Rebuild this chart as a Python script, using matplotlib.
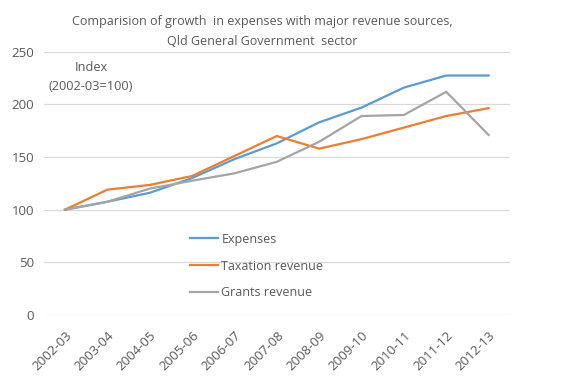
import matplotlib
matplotlib.use("Agg")
import matplotlib.pyplot as plt

years = ["2002-03", "2003-04", "2004-05", "2005-06", "2006-07", "2007-08",
         "2008-09", "2009-10", "2010-11", "2011-12", "2012-13"]
expenses = [100, 107.5, 116, 130, 148, 163, 183, 197, 216, 227.5, 227.5]
taxation = [100, 119, 123.5, 132, 151, 170, 158, 167, 178, 189, 196.5]
grants = [100, 107.5, 120, 127.5, 134.5, 145.5, 164.5, 189, 190, 212, 171]

txt = "#595959"
plt.rcParams['font.family'] = ['Open Sans', 'DejaVu Sans']

fig = plt.figure(figsize=(5.76, 3.84), dpi=100)
ax = fig.add_axes([0.076, 0.18, 0.809, 0.685])

x = list(range(len(years)))
ax.plot(x, expenses, color="#5B9BD5", lw=1.6, label="Expenses")
ax.plot(x, taxation, color="#ED7D31", lw=1.6, label="Taxation revenue")
ax.plot(x, grants, color="#A5A5A5", lw=1.6, label="Grants revenue")

ax.set_xlim(-0.5, len(years) - 0.5)
ax.set_ylim(0, 250)
ax.set_yticks(range(0, 251, 50))
ax.set_xticks(x)
ax.set_xticklabels(years, rotation=45, ha='right', rotation_mode='anchor')
ax.tick_params(axis='both', length=0, colors=txt, labelsize=9.5)
ax.tick_params(axis='y', pad=7)
ax.tick_params(axis='x', pad=10)
for s in ax.spines.values():
    s.set_visible(False)
ax.grid(axis='y', color="#D9D9D9", lw=0.9)
ax.set_axisbelow(True)

fig.text(0.455, 0.962, "Comparision of growth  in expenses with major revenue sources,\nQld General Government  sector",
         ha='center', va='top', fontsize=9, color=txt, linespacing=1.7)
fig.text(0.158, 0.84, "Index\n(2002-03=100)", ha='center', va='top', fontsize=9.2,
         color=txt, linespacing=1.6)

ax.legend(loc='upper left', bbox_to_anchor=(0.29, 0.355), frameon=False,
          fontsize=9, labelcolor=txt, handlelength=2.2, handletextpad=0.3,
          labelspacing=1.1)

fig.savefig("out.png", dpi=100)
